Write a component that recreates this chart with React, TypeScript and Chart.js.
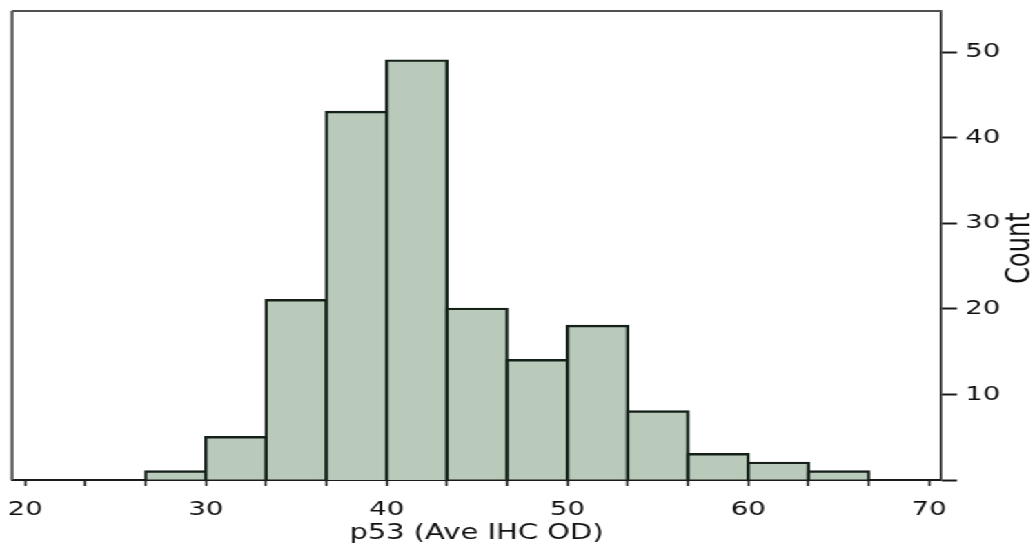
import React, { useEffect, useRef } from "react";
import { Chart, registerables } from "chart.js";

Chart.register(...registerables);

// Histogram bins (lower edges) and counts
const binStarts = [26.667, 30, 33.333, 36.667, 40, 43.333, 46.667, 50, 53.333, 56.667, 60, 63.333];
const counts = [1, 5, 21, 43, 49, 20, 14, 18, 8, 3, 2, 1];
const binWidth = 10 / 3;
const xTickEdges = [20, 23.333, 26.667, 30, 33.333, 36.667, 40, 43.333, 46.667, 50, 53.333, 56.667, 60, 63.333, 66.667, 70];
const xLabelTicks = [20, 30, 40, 50, 60, 70];
const yTicks = [0, 10, 20, 30, 40, 50];
const xTitle = "p53 (Ave IHC OD)";
const yTitle = "Count";

const S = 1.38; // horizontal stretch of the reference image
const W = 1035 / S;
const H = 544;
const FONT = "'DejaVu Sans', Verdana, sans-serif";

export default function App() {
  const ref = useRef<HTMLCanvasElement | null>(null);
  useEffect(() => {
    if (!ref.current) return;
    const framePlugin = {
      id: "frame",
      afterDraw(chart: any) {
        const { ctx, chartArea } = chart;
        ctx.save();
        ctx.strokeStyle = "#505050";
        ctx.lineWidth = 2;
        ctx.beginPath();
        ctx.moveTo(chartArea.left, chartArea.top);
        ctx.lineTo(chartArea.right, chartArea.top);
        ctx.stroke();
        ctx.lineWidth = 2.2;
        ctx.beginPath();
        ctx.moveTo(chartArea.left, chartArea.top);
        ctx.lineTo(chartArea.left, chartArea.bottom);
        ctx.stroke();
        ctx.translate(1021 / S, 248);
        ctx.rotate(-Math.PI / 2);
        ctx.fillStyle = "#111";
        ctx.font = `24px ${FONT}`;
        ctx.textAlign = "center";
        ctx.textBaseline = "middle";
        ctx.fillText(yTitle, 0, 0);
        ctx.restore();
      },
    };
    const chart = new Chart(ref.current, {
      type: "bar",
      data: {
        datasets: [
          {
            data: binStarts.map((b, i) => ({ x: b + binWidth / 2, y: counts[i] })),
            backgroundColor: "#b9cabb",
            borderColor: "#142018",
            borderWidth: 2.4,
            inflateAmount: 1.2,
            barPercentage: 1,
            categoryPercentage: 1,
          } as any,
        ],
      },
      plugins: [framePlugin],
      options: {
        animation: false,
        responsive: true,
        maintainAspectRatio: false,
        layout: { padding: { left: 12 / S, top: 11, right: 0, bottom: 0 } },
        plugins: { legend: { display: false }, tooltip: { enabled: false } },
        scales: {
          x: {
            type: "linear",
            offset: false,
            min: 19.28,
            max: 70.66,
            afterBuildTicks: (scale: any) => {
              scale.ticks = xTickEdges.map((v) => ({ value: v }));
            },
            afterFit: (scale: any) => {
              scale.height = 64;
              scale.paddingLeft = 0;
              scale.paddingRight = 0;
            },
            ticks: {
              autoSkip: false,
              maxRotation: 0,
              padding: 12,
              color: "#111",
              font: { family: FONT, size: 20 },
              callback: (v: any) => {
                const n = Number(v);
                const hit = xLabelTicks.find((t) => Math.abs(t - n) < 0.01);
                return hit !== undefined ? String(hit) : "";
              },
            },
            grid: {
              display: true,
              offset: false,
              drawOnChartArea: false,
              drawTicks: true,
              tickLength: 6,
              tickWidth: 1.6,
              tickColor: "#1a1a1a",
            },
            border: { display: true, color: "#1a1a1a", width: 2 },
            title: {
              display: true,
              text: xTitle,
              color: "#111",
              font: { family: FONT, size: 21, lineHeight: 1.0 },
              padding: { top: 0, bottom: 0 },
            },
          },
          y: {
            type: "linear",
            position: "right",
            min: 0,
            max: 54.8,
            afterBuildTicks: (scale: any) => {
              scale.ticks = yTicks.map((v) => ({ value: v }));
            },
            afterFit: (scale: any) => {
              scale.width = W - 941 / S;
              scale.paddingTop = 0;
              scale.paddingBottom = 0;
            },
            ticks: {
              padding: 6,
              color: "#111",
              font: { family: FONT, size: 20 },
              callback: (v: any) => (Number(v) === 0 ? "" : String(v)),
            },
            grid: {
              display: true,
              drawOnChartArea: false,
              drawTicks: true,
              tickLength: 16 / S,
              tickWidth: 2,
              tickColor: "#1a1a1a",
            },
            border: { display: true, color: "#1a1a1a", width: 1.6 },
          },
        },
      },
    });
    return () => chart.destroy();
  }, []);
  return (
    <div
      style={{
        position: "fixed",
        left: 0,
        top: 0,
        width: W + "px",
        height: H + "px",
        transform: `scaleX(${S})`,
        transformOrigin: "0 0",
        background: "#fff",
      }}
    >
      <canvas ref={ref} />
    </div>
  );
}
